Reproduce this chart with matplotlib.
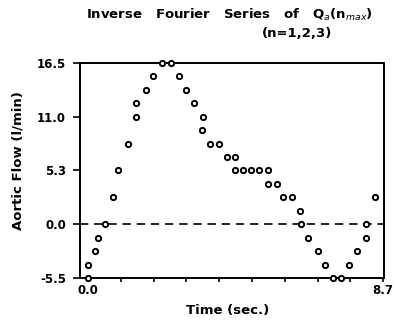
import matplotlib

matplotlib.use("Agg")
import matplotlib.pyplot as plt
import numpy as np

TIME = [
    0.00, 0.01, 0.21, 0.30, 0.49, 0.73, 0.88, 1.17, 1.41, 1.41,
    1.70, 1.92, 2.19, 2.45, 2.68, 2.89, 3.13, 3.38, 3.37, 3.60,
    3.87, 4.09, 4.34, 4.34, 4.58, 4.82, 5.05, 5.31, 5.32, 5.56,
    5.76, 6.01, 6.26, 6.28, 6.50, 6.77, 6.99, 7.23, 7.46, 7.68,
    7.92, 8.19, 8.19, 8.46,
]
FLOW = [
    -5.5, -4.125, -2.75, -1.375, 0.0, 2.75, 5.5, 8.25, 11.0, 12.375,
    13.75, 15.125, 16.5, 16.5, 15.125, 13.75, 12.375, 11.0, 9.625, 8.25,
    8.25, 6.875, 6.875, 5.5, 5.5, 5.5, 5.5, 5.5, 4.125, 4.125,
    2.75, 2.75, 1.375, 0.0, -1.375, -2.75, -4.125, -5.5, -5.5, -4.125,
    -2.75, -1.375, 0.0, 2.75,
]

Y_TICKS = [-5.5, 0.0, 5.5, 11.0, 16.5]
Y_TICK_LABELS = ["-5.5", "0.0", "5.3", "11.0", "16.5"]
X_END = 8.7
X_END_LABEL = "8.7"

# ── Figure ─────────────────────────────────────────────────────────────────────

FONT = dict(family="DejaVu Sans", fontsize=8.5, fontweight="semibold")
BIG = dict(FONT, fontsize=9.5)

fig = plt.figure(figsize=(3.96, 3.24), dpi=100)
ax = fig.add_axes([0.202, 0.142, 0.768, 0.664])

ax.plot(
    TIME, FLOW, linestyle="none", marker="o", markersize=3.8,
    markerfacecolor="white", markeredgecolor="black", markeredgewidth=1.4,
    clip_on=False, zorder=3,
)
ax.axhline(0.0, color="black", linewidth=1.2, linestyle=(0, (5, 3.5)), zorder=2)

ax.set_xlim(-0.236, X_END + 0.03)
ax.set_ylim(-5.5, 16.5)

x_ticks = np.linspace(0, X_END, 10)
ax.set_xticks(x_ticks)
ax.set_xticklabels(["0.0"] + [""] * 8 + [X_END_LABEL], **FONT)
ax.set_yticks(Y_TICKS)
ax.set_yticklabels(Y_TICK_LABELS, **FONT)
ax.tick_params(axis="x", direction="out", length=3, width=1.2, pad=1.5)
ax.tick_params(axis="y", direction="out", length=5, width=1.2, pad=5)

for side in ["left", "right", "top", "bottom"]:
    ax.spines[side].set_linewidth(1.4)

ax.set_xlabel("Time (sec.)", **BIG)
ax.set_ylabel("Aortic Flow (l/min)", **BIG)
ax.xaxis.set_label_coords(0.487, -0.12)
ax.yaxis.set_label_coords(-0.184, 0.545)

fig.text(0.58, 0.954, "Inverse   Fourier   Series   of   Q$_a$(n$_{max}$)",
         ha="center", va="center", **BIG)
fig.text(0.75, 0.897, "(n=1,2,3)", ha="center", va="center", **BIG)

fig.savefig("out.png", dpi=100)
